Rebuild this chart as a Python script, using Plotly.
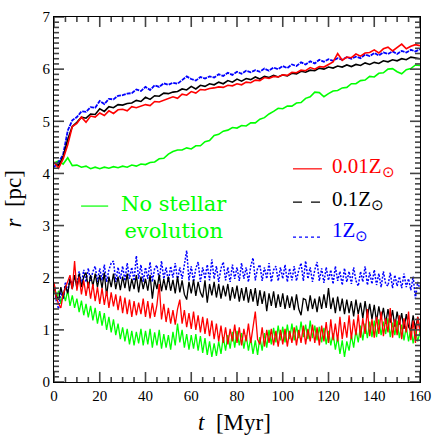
import plotly.graph_objects as go

# time grids (Myr)
t_upper = list(range(0, 161, 2))
t_lower = list(range(0, 161, 1))

# upper set of curves, every 2 Myr
r_up_001 = [4.22, 4.10, 4.28, 4.55, 4.90, 4.96, 5.08, 4.98, 5.10, 5.08,
            5.16, 5.11, 5.20, 5.15, 5.22, 5.23, 5.20, 5.28, 5.26, 5.29,
            5.32, 5.30, 5.38, 5.37, 5.40, 5.43, 5.47, 5.44, 5.52, 5.50,
            5.57, 5.54, 5.61, 5.60, 5.63, 5.64, 5.66, 5.65, 5.69, 5.68,
            5.72, 5.70, 5.75, 5.74, 5.79, 5.78, 5.84, 5.82, 5.86, 5.85,
            5.89, 5.88, 5.94, 5.93, 5.98, 5.97, 6.03, 6.00, 6.05, 6.04,
            6.09, 6.14, 6.30, 6.17, 6.23, 6.22, 6.29, 6.25, 6.31, 6.32,
            6.37, 6.31, 6.39, 6.42, 6.35, 6.41, 6.48, 6.39, 6.44, 6.47,
            6.45]
r_up_01 = [4.20, 4.15, 4.32, 4.65, 4.90, 4.98, 5.08, 5.06, 5.14, 5.13,
           5.24, 5.19, 5.28, 5.26, 5.32, 5.31, 5.34, 5.35, 5.40, 5.38,
           5.46, 5.42, 5.49, 5.48, 5.54, 5.53, 5.56, 5.57, 5.62, 5.60,
           5.67, 5.62, 5.69, 5.67, 5.72, 5.70, 5.75, 5.72, 5.78, 5.75,
           5.81, 5.77, 5.82, 5.80, 5.85, 5.81, 5.86, 5.84, 5.88, 5.85,
           5.89, 5.87, 5.92, 5.91, 5.96, 5.94, 5.98, 5.97, 6.02, 6.00,
           6.04, 6.02, 6.06, 6.04, 6.08, 6.05, 6.09, 6.07, 6.12, 6.09,
           6.13, 6.11, 6.16, 6.14, 6.18, 6.16, 6.20, 6.18, 6.23, 6.21,
           6.20]
r_up_1 = [4.12, 4.22, 4.36, 4.82, 5.02, 5.08, 5.19, 5.18, 5.27, 5.26,
          5.39, 5.33, 5.43, 5.42, 5.49, 5.50, 5.53, 5.54, 5.61, 5.58,
          5.66, 5.60, 5.69, 5.66, 5.73, 5.70, 5.74, 5.72, 5.79, 5.86,
          5.81, 5.78, 5.85, 5.82, 5.86, 5.84, 5.90, 5.87, 5.93, 5.89,
          5.95, 5.91, 5.97, 5.94, 5.98, 5.95, 6.01, 5.97, 6.03, 6.00,
          6.06, 6.02, 6.09, 6.06, 6.13, 6.09, 6.15, 6.11, 6.18, 6.14,
          6.19, 6.16, 6.21, 6.18, 6.23, 6.20, 6.24, 6.21, 6.28, 6.25,
          6.31, 6.26, 6.32, 6.29, 6.34, 6.29, 6.35, 6.32, 6.37, 6.34,
          6.38]
r_up_nse = [4.20, 4.24, 4.18, 4.30, 4.15, 4.16, 4.12, 4.14, 4.09, 4.12,
            4.09, 4.12, 4.10, 4.13, 4.11, 4.14, 4.12, 4.16, 4.14, 4.18,
            4.17, 4.21, 4.22, 4.28, 4.29, 4.37, 4.42, 4.45, 4.45, 4.49,
            4.47, 4.53, 4.53, 4.61, 4.63, 4.73, 4.75, 4.81, 4.83, 4.88,
            4.87, 4.92, 4.91, 4.97, 4.97, 5.04, 5.07, 5.14, 5.19, 5.25,
            5.24, 5.29, 5.29, 5.35, 5.36, 5.44, 5.47, 5.56, 5.55, 5.47,
            5.53, 5.58, 5.59, 5.64, 5.65, 5.72, 5.72, 5.78, 5.79, 5.86,
            5.85, 5.92, 5.93, 6.00, 6.01, 5.95, 5.91, 5.99, 6.01, 6.08,
            6.07]

# lower set of curves, every 1 Myr
r_lo_001 = [1.92, 1.62, 1.50, 1.42, 1.68, 1.80, 1.95, 2.05, 1.78, 2.32,
            1.75, 2.02, 1.68, 1.95, 1.65, 1.92, 1.60, 1.88, 1.55, 1.82,
            1.50, 1.80, 1.48, 1.75, 1.42, 1.72, 1.45, 1.68, 1.38, 1.65,
            1.32, 1.62, 1.30, 1.58, 1.25, 1.55, 1.28, 1.52, 1.30, 1.60,
            1.25, 1.55, 1.22, 1.52, 1.25, 1.48, 1.88, 1.20, 1.50, 1.15,
            1.42, 1.12, 1.38, 1.10, 1.40, 1.58, 1.12, 1.38, 1.05, 1.32,
            1.02, 1.35, 1.00, 1.28, 0.95, 1.25, 0.92, 1.22, 0.88, 1.18,
            0.82, 1.12, 0.78, 1.08, 0.75, 1.05, 0.72, 1.02, 0.78, 1.10,
            0.75, 1.05, 0.70, 1.02, 0.78, 1.12, 0.75, 1.08, 1.35, 0.82,
            0.72, 1.05, 0.68, 1.00, 0.75, 1.02, 0.70, 0.98, 0.68, 1.00,
            0.72, 1.02, 0.68, 0.98, 0.75, 1.05, 0.70, 1.00, 0.75, 1.08,
            0.72, 1.02, 0.78, 1.10, 0.75, 1.05, 0.70, 1.08, 0.78, 1.15,
            0.75, 1.20, 0.80, 1.12, 0.78, 1.25, 0.82, 1.15, 0.85, 1.28,
            0.82, 1.20, 0.90, 1.30, 0.85, 1.22, 0.92, 1.40, 0.88, 1.20,
            0.85, 1.25, 0.92, 1.35, 0.88, 1.22, 0.95, 1.42, 0.85, 1.20,
            0.90, 1.28, 0.82, 1.22, 0.95, 1.35, 0.80, 1.18, 0.75, 1.25,
            0.95]
r_lo_01 = [1.88, 1.65, 1.58, 1.82, 1.62, 1.85, 1.70, 1.98, 1.78, 2.05,
           1.80, 2.08, 1.82, 2.02, 2.10, 1.80, 2.05, 1.84, 2.08, 1.82,
           2.05, 1.80, 2.10, 1.65, 2.02, 1.82, 2.08, 1.78, 2.02, 1.76,
           2.02, 1.80, 2.08, 1.74, 1.98, 1.78, 2.05, 1.72, 2.02, 1.78,
           1.98, 1.75, 2.05, 1.60, 1.96, 1.78, 2.06, 1.74, 1.98, 1.76,
           2.02, 1.75, 1.96, 1.70, 2.02, 1.72, 1.95, 1.68, 1.58, 1.92,
           1.70, 1.96, 1.65, 1.92, 1.72, 1.62, 1.95, 1.52, 1.88, 1.66,
           1.92, 1.62, 1.88, 1.60, 1.85, 1.64, 1.88, 1.56, 1.82, 1.60,
           1.85, 1.54, 1.80, 1.56, 1.82, 1.52, 1.78, 1.54, 1.80, 1.46,
           1.76, 1.50, 1.74, 1.36, 1.70, 1.46, 1.74, 1.42, 1.68, 1.44,
           1.70, 1.40, 1.66, 1.42, 1.64, 1.38, 1.68, 1.40, 1.28, 1.60,
           1.58, 1.36, 1.66, 1.40, 1.60, 1.34, 1.64, 1.40, 1.68, 1.42,
           1.80, 1.40, 1.62, 1.32, 1.64, 1.36, 1.60, 1.30, 1.58, 1.32,
           1.55, 1.26, 1.58, 1.30, 1.52, 1.22, 1.55, 1.24, 1.50, 1.20,
           1.48, 1.16, 1.45, 1.20, 1.42, 1.12, 1.40, 1.14, 1.38, 1.06,
           1.35, 1.10, 1.32, 1.02, 1.30, 1.06, 0.98, 1.28, 1.02, 1.25,
           1.00]
r_lo_1 = [1.85, 1.55, 1.40, 1.75, 1.58, 1.92, 1.72, 2.00, 1.82, 2.05,
          1.85, 2.12, 1.88, 2.15, 1.92, 2.18, 1.94, 2.12, 2.22, 1.92,
          2.18, 1.95, 2.25, 1.92, 2.15, 2.28, 2.32, 1.92, 2.20, 1.98,
          2.22, 1.94, 2.28, 1.98, 2.20, 1.94, 2.42, 1.98, 2.25, 1.92,
          2.20, 1.98, 2.30, 1.92, 2.18, 2.24, 1.95, 2.32, 1.98, 2.20,
          1.92, 2.22, 2.00, 2.28, 1.95, 2.20, 1.98, 2.25, 2.52, 1.95,
          2.22, 1.92, 2.18, 2.30, 1.92, 2.20, 1.98, 2.25, 1.95, 2.35,
          1.98, 2.22, 1.92, 2.18, 2.30, 1.95, 2.20, 1.92, 2.25, 1.98,
          2.20, 1.94, 2.28, 1.98, 2.20, 1.92, 2.22, 2.38, 1.95, 2.18,
          2.25, 1.94, 2.20, 1.98, 2.28, 1.92, 2.15, 2.22, 1.94, 2.20,
          1.98, 2.25, 1.92, 2.18, 1.95, 2.22, 1.94, 2.15, 2.28, 1.94,
          2.32, 1.98, 2.20, 1.92, 2.15, 2.30, 1.94, 2.18, 1.90, 2.20,
          1.95, 2.15, 1.88, 2.22, 1.94, 2.12, 1.86, 2.18, 1.92, 2.12,
          1.88, 2.20, 1.94, 1.84, 2.12, 1.92, 2.22, 1.86, 2.10, 1.88,
          2.15, 1.86, 2.08, 1.82, 2.12, 1.88, 1.84, 2.10, 1.80, 2.05,
          1.84, 2.02, 1.80, 2.08, 1.82, 1.98, 1.76, 2.02, 1.60, 1.92,
          1.78]
r_lo_nse = [1.80, 1.58, 1.75, 1.50, 1.72, 1.55, 1.76, 1.46, 1.66, 1.42,
            1.60, 1.34, 1.56, 1.28, 1.50, 1.24, 1.46, 1.18, 1.42, 1.12,
            1.36, 1.08, 1.32, 1.00, 1.25, 0.95, 1.20, 0.90, 1.12, 0.82,
            1.05, 0.78, 1.02, 0.72, 0.98, 0.70, 0.96, 0.74, 1.02, 0.70,
            0.98, 0.72, 1.02, 0.66, 0.95, 0.70, 1.00, 0.64, 0.92, 0.66,
            0.90, 0.62, 0.96, 0.70, 1.12, 0.76, 1.00, 0.66, 0.92, 0.62,
            0.90, 0.64, 0.92, 0.60, 0.88, 0.56, 0.84, 0.52, 0.78, 0.48,
            0.74, 0.50, 0.78, 0.54, 0.86, 0.60, 0.90, 0.64, 0.96, 0.66,
            0.98, 0.70, 0.94, 0.64, 0.90, 0.60, 0.84, 0.54, 0.80, 0.52,
            0.86, 0.60, 0.94, 0.66, 1.00, 0.72, 1.04, 0.76, 1.08, 0.80,
            1.06, 0.76, 1.10, 0.82, 1.12, 0.80, 1.08, 0.84, 1.16, 0.86,
            1.10, 0.82, 1.18, 0.84, 1.08, 0.80, 1.06, 0.76, 1.04, 0.72,
            0.98, 0.70, 0.94, 0.62, 0.86, 0.54, 0.80, 0.48, 0.78, 0.60,
            0.90, 0.66, 1.00, 0.76, 1.08, 0.80, 1.12, 0.84, 1.16, 0.86,
            1.18, 0.86, 1.20, 0.90, 1.16, 0.92, 1.22, 0.86, 1.14, 0.90,
            1.18, 0.84, 1.10, 0.80, 1.06, 0.78, 1.04, 0.74, 1.00, 0.78,
            0.96]

# tick positions
x_major = list(range(0, 161, 20))
x_minor = [v for v in range(0, 161, 5) if v % 20]
y_major = list(range(0, 8))
y_minor = [i / 10 for i in range(0, 71) if i % 10]

GREEN = '#00ff00'
RED = '#ff0000'
BLUE = '#0000ff'
BLACK = '#000000'
SERIF = 'Liberation Serif'
W, H = 366, 365   # plot area in px

fig = go.Figure()

# green (no stellar evolution) first, red drawn last on top
fig.add_trace(go.Scatter(x=t_upper, y=r_up_nse, mode='lines', line=dict(color=GREEN, width=1.6)))
fig.add_trace(go.Scatter(x=t_lower, y=r_lo_nse, mode='lines', line=dict(color=GREEN, width=1.3)))
fig.add_trace(go.Scatter(x=t_upper, y=r_up_1, mode='lines', line=dict(color=BLUE, width=1.8, dash='4px,1px')))
fig.add_trace(go.Scatter(x=t_lower, y=r_lo_1, mode='lines', line=dict(color=BLUE, width=1.5, dash='2px,1.5px')))
fig.add_trace(go.Scatter(x=t_upper, y=r_up_01, mode='lines', line=dict(color=BLACK, width=1.6)))
fig.add_trace(go.Scatter(x=t_lower, y=r_lo_01, mode='lines', line=dict(color=BLACK, width=1.3)))
fig.add_trace(go.Scatter(x=t_upper, y=r_up_001, mode='lines', line=dict(color=RED, width=1.6)))
fig.add_trace(go.Scatter(x=t_lower, y=r_lo_001, mode='lines', line=dict(color=RED, width=1.3)))

# ticks on all four sides, drawn inward
tick_line = dict(color='#444444', width=1.6)
for vals, ln in [(x_major, 10), (x_minor, 5)]:
    for v in vals:
        fig.add_shape(type='line', xref='x', yref='paper', x0=v, x1=v, y0=0, y1=ln / H,
                      line=tick_line, layer='above')
        fig.add_shape(type='line', xref='x', yref='paper', x0=v, x1=v, y0=1, y1=1 - ln / H,
                      line=tick_line, layer='above')
for vals, ln in [(y_major, 10), (y_minor, 5)]:
    for v in vals:
        fig.add_shape(type='line', xref='paper', yref='y', x0=0, x1=ln / W, y0=v, y1=v,
                      line=tick_line, layer='above')
        fig.add_shape(type='line', xref='paper', yref='y', x0=1, x1=1 - ln / W, y0=v, y1=v,
                      line=tick_line, layer='above')

# hand placed legend inside the frame
legend_items = [
    (0.754, 0.590, 0.584, '0.01Z<sub>⊙</sub>', RED, 'solid'),
    (0.754, 0.498, 0.493, '0.1Z<sub>⊙</sub>', BLACK, 'dash'),
    (0.754, 0.413, 0.397, '1Z<sub>⊙</sub>', BLUE, 'dot'),
]
for xt, yt, yl, txt, col, dash in legend_items:
    fig.add_shape(type='line', xref='paper', yref='paper', x0=0.653, x1=0.732, y0=yl, y1=yl,
                  line=dict(color=col, width=1.2, dash=dash))
    fig.add_annotation(xref='paper', yref='paper', x=xt, y=yt, text=txt, showarrow=False,
                       xanchor='left', yanchor='middle', font=dict(family=SERIF, size=21, color=col))

fig.add_shape(type='line', xref='paper', yref='paper', x0=0.074, x1=0.148, y0=0.482, y1=0.482,
              line=dict(color=GREEN, width=1.2))
fig.add_annotation(xref='paper', yref='paper', x=0.329, y=0.452, text='No stellar<br>evolution',
                   showarrow=False, xanchor='center', yanchor='middle',
                   font=dict(family='DejaVu Serif', size=21, color=GREEN))

# axis titles
fig.add_annotation(xref='paper', yref='paper', x=0.492, y=-0.112, text='<i>t</i>  [Myr]',
                   showarrow=False, xanchor='center', yanchor='middle',
                   font=dict(family=SERIF, size=23, color='black'))
fig.add_annotation(xref='paper', yref='paper', x=-0.112, y=0.5, text='<i>r</i>  [pc]',
                   showarrow=False, xanchor='center', yanchor='middle', textangle=-90,
                   font=dict(family=SERIF, size=23, color='black'))

fig.update_layout(
    width=436, height=436, showlegend=False,
    plot_bgcolor='white', paper_bgcolor='white',
    margin=dict(l=54, r=16, t=17, b=54),
    xaxis=dict(range=[0, 160], tickvals=x_major, ticks='', showline=True, linecolor='black',
               linewidth=1, mirror=True, showgrid=False, zeroline=False, automargin=False,
               tickfont=dict(family=SERIF, size=15, color='black')),
    yaxis=dict(range=[0, 7], tickvals=y_major, ticks='', showline=True, linecolor='black',
               linewidth=1, mirror=True, showgrid=False, zeroline=False, automargin=False,
               tickfont=dict(family=SERIF, size=15, color='black')),
)

# the default page has an 8px body margin; drop it so the figure sits at 0,0
fig.write_html("out.html", config={'displayModeBar': False},
               post_script="document.body.style.margin='0px';")
